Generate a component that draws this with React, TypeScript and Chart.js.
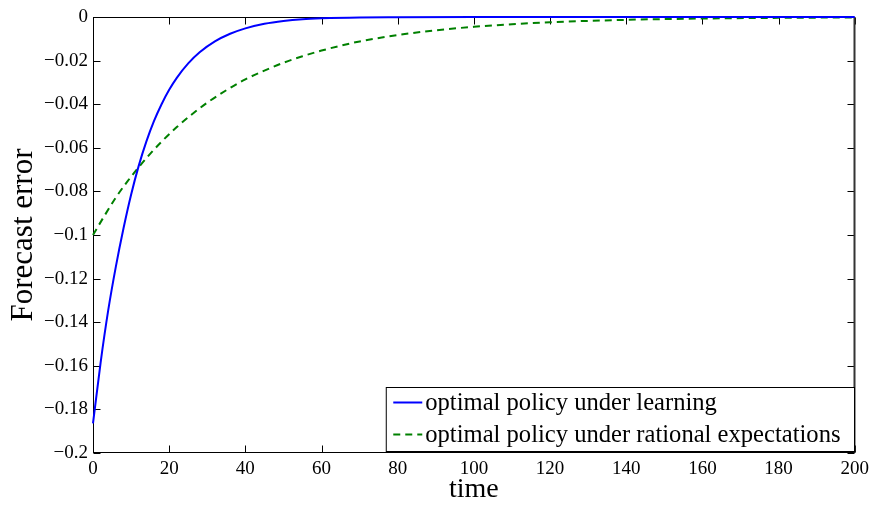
import React, { useEffect, useRef } from "react";
import { Chart, registerables } from "chart.js";

Chart.register(...registerables);

// ---- data ----
const learningTime = [0, 2, 4, 6, 8, 10, 12, 14, 16, 18, 20, 22, 25, 28, 32, 36, 40, 45, 50, 55, 60, 70, 80, 100, 120, 150, 200];
const learningError = [-0.1864, -0.1585, -0.1345, -0.1145, -0.097, -0.0815, -0.0683, -0.0572, -0.0478, -0.04, -0.0334, -0.0279, -0.0213, -0.0162, -0.0112, -0.0077, -0.0052, -0.0031, -0.0018, -0.001, -0.0006, -0.0002, -0.0001, 0, 0, 0, 0];

const rationalTime = [0, 3, 6, 9, 12, 15, 18, 22, 26, 30, 35, 40, 45, 50, 55, 60, 70, 80, 90, 100, 110, 120, 140, 160, 180, 200];
const rationalError = [-0.1, -0.0912, -0.0828, -0.0755, -0.0689, -0.0628, -0.0572, -0.0505, -0.0446, -0.0393, -0.0336, -0.0286, -0.0246, -0.021, -0.018, -0.0154, -0.0112, -0.0083, -0.0061, -0.0045, -0.0033, -0.0024, -0.0013, -0.0007, -0.0004, -0.0002];

const seriesLabels = ["optimal policy under learning", "optimal policy under rational expectations"];
const seriesColors = ["#0000ff", "#008000"];

const xMin = 0, xMax = 200, xStep = 20;
const yMin = -0.2, yMax = 0, yStep = 0.02;
const xTitle = "time";
const yTitle = "Forecast error";

const FONT = "'Liberation Serif', 'Times New Roman', Times, serif";

const framePlugin = {
  id: "frame",
  beforeDatasetsDraw(chart: any) {
    const { ctx, chartArea, scales } = chart;
    const L = Math.round(chartArea.left) + 0.5;
    const R = Math.round(chartArea.right) - 0.5;
    const T = Math.round(chartArea.top) + 0.5;
    const B = Math.round(chartArea.bottom) - 0.5;
    ctx.save();
    ctx.strokeStyle = "#000";
    ctx.lineWidth = 1;
    ctx.strokeRect(L, T, R - L, B - T);
    const len = 7;
    ctx.beginPath();
    scales.x.ticks.forEach((t: any) => {
      const px = Math.round(scales.x.getPixelForValue(t.value)) + 0.5;
      ctx.moveTo(px, B); ctx.lineTo(px, B - len);
      ctx.moveTo(px, T); ctx.lineTo(px, T + len);
    });
    scales.y.ticks.forEach((t: any) => {
      const py = Math.round(scales.y.getPixelForValue(t.value)) + 0.5;
      ctx.moveTo(L, py); ctx.lineTo(L + len, py);
      ctx.moveTo(R, py); ctx.lineTo(R - len, py);
    });
    ctx.stroke();
    ctx.strokeStyle = "#333";
    ctx.lineWidth = 2;
    ctx.beginPath();
    ctx.moveTo(R, T);
    ctx.lineTo(R, B);
    ctx.stroke();
    ctx.restore();
  },
};

const legendPlugin = {
  id: "boxLegend",
  afterDraw(chart: any) {
    const { ctx, chartArea } = chart;
    const ds = chart.data.datasets;
    ctx.save();
    ctx.font = `24.6px ${FONT}`;
    let tw = 0;
    ds.forEach((d: any) => { tw = Math.max(tw, ctx.measureText(d.label).width); });
    const padL = 7, lineW = 29, gap = 3, padR = 14, rowH = 32;
    const w = padL + lineW + gap + tw + padR;
    const h = 64;
    const right = Math.round(chartArea.right) - 0.5;
    const bottom = Math.round(chartArea.bottom) - 1.5;
    const left = right - w;
    const top = bottom - h;
    ctx.fillStyle = "#fff";
    ctx.fillRect(left, top, w, h);
    ctx.strokeStyle = "#000";
    ctx.lineWidth = 1;
    ctx.strokeRect(left, top, w, h);
    ds.forEach((d: any, i: number) => {
      const cy = top + 15 + i * rowH;
      ctx.beginPath();
      ctx.strokeStyle = d.borderColor;
      ctx.lineWidth = 2;
      ctx.setLineDash(d.borderDash || []);
      ctx.moveTo(left + padL, cy);
      ctx.lineTo(left + padL + lineW, cy);
      ctx.stroke();
      ctx.setLineDash([]);
      ctx.fillStyle = "#000";
      ctx.textBaseline = "middle";
      ctx.textAlign = "left";
      ctx.fillText(d.label, left + padL + lineW + gap, cy + 1);
    });
    ctx.restore();
  },
};

export default function App() {
  const ref = useRef<HTMLCanvasElement>(null);
  useEffect(() => {
    document.body.style.margin = "0";
    const canvas = ref.current!;
    const chart = new Chart(canvas, {
      type: "line",
      data: {
        datasets: [
          {
            label: seriesLabels[0],
            data: learningTime.map((t, i) => ({ x: t, y: learningError[i] })),
            borderColor: seriesColors[0],
            borderWidth: 2,
            pointRadius: 0,
            cubicInterpolationMode: "monotone",
            fill: false,
            clip: false,
          },
          {
            label: seriesLabels[1],
            data: rationalTime.map((t, i) => ({ x: t, y: rationalError[i] })),
            borderColor: seriesColors[1],
            borderWidth: 2,
            borderDash: [7, 5],
            pointRadius: 0,
            cubicInterpolationMode: "monotone",
            fill: false,
            clip: false,
          },
        ] as any,
      },
      options: {
        animation: false,
        responsive: false,
        maintainAspectRatio: false,
        layout: { padding: { left: 0, right: 19, top: 17, bottom: 0 } },
        plugins: { legend: { display: false }, tooltip: { enabled: false } },
        scales: {
          x: {
            type: "linear",
            min: xMin,
            max: xMax,
            grid: { display: false, drawTicks: false },
            border: { display: false },
            ticks: {
              stepSize: xStep,
              color: "#000",
              font: { family: FONT, size: 19 },
              padding: 5,
              maxRotation: 0,
            },
            title: {
              display: true,
              text: xTitle,
              color: "#000",
              font: { family: FONT, size: 28, lineHeight: 1 },
              padding: { top: 0, bottom: 2 },
            },
            afterFit: (s: any) => { s.height = 53; },
          },
          y: {
            type: "linear",
            min: yMin,
            max: yMax,
            grid: { display: false, drawTicks: false },
            border: { display: false },
            ticks: {
              stepSize: yStep,
              color: "#000",
              font: { family: FONT, size: 19 },
              padding: 5,
              callback: (v: any) => {
                const n = Number(Number(v).toFixed(2));
                return n === 0 ? "0" : String(n).replace("-", "\u2212");
              },
            },
            title: {
              display: true,
              text: yTitle,
              color: "#000",
              font: { family: FONT, size: 31, lineHeight: 1 },
              padding: { top: 8, bottom: 0 },
            },
            afterFit: (s: any) => { s.width = 93; },
          },
        },
      },
      plugins: [framePlugin, legendPlugin],
    });
    return () => chart.destroy();
  }, []);
  return (
    <div style={{ width: 874, height: 506, position: "relative", background: "#fff" }}>
      <canvas ref={ref} width={874} height={506} style={{ display: "block" }} />
    </div>
  );
}
